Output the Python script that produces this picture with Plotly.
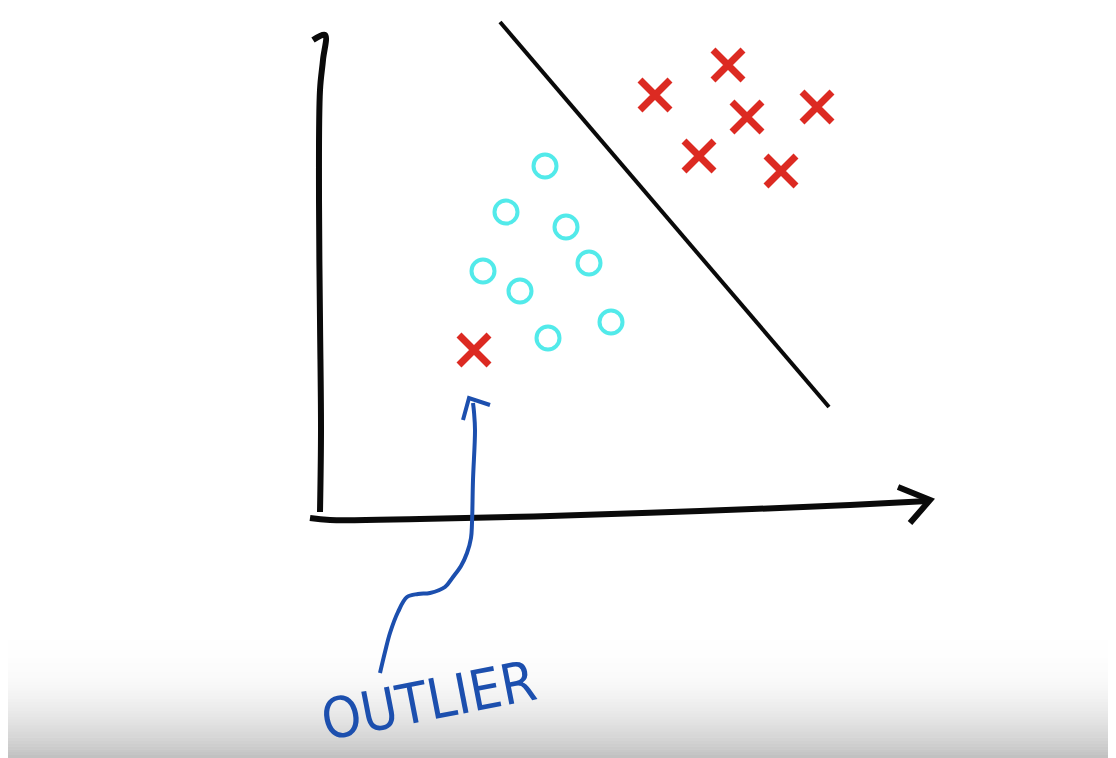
import plotly.graph_objects as go

# Sketch coordinates (canvas units, y grows downward)
red_x = [655, 728, 747, 817, 699, 781]
red_y = [95, 65, 117, 107, 156, 171]

outlier_x = [474]
outlier_y = [350]

cyan_x = [545, 506, 566, 589, 483, 520, 548, 611]
cyan_y = [166, 212, 227, 263, 271, 291, 338, 322]

yaxis_x = [313, 325, 323, 320, 319, 320, 321, 320]
yaxis_y = [40, 35, 60, 90, 200, 320, 430, 512]

xaxis_x = [310, 330, 420, 550, 700, 850, 928]
xaxis_y = [518, 520, 519, 516, 511, 505, 501]

arrowhead_x = [898, 930, 910]
arrowhead_y = [487, 500, 523]

boundary_x = [500, 829]
boundary_y = [22, 407]

pointer_x = [380, 385, 390, 398, 407, 418, 430, 445, 453, 461, 467, 471, 472, 473, 475, 474, 473]
pointer_y = [673, 652, 633, 612, 597, 594, 593, 587, 577, 566, 553, 538, 523, 480, 430, 412, 403]

pointer_head_x = [463, 469, 490]
pointer_head_y = [420, 398, 405]

label_text = "OUTLIER"
label_pos = (428, 700)

# page body margin of the browser (figure is drawn offset by this)
PAGE_MARGIN = 8
W, H = 1116, 758

fig = go.Figure()

# bottom gradient (video-style fade)
grad_top, grad_bottom = 640, 758
steps = 40
for i in range(steps):
    y0 = grad_top + (grad_bottom - grad_top) * i / steps
    y1 = grad_top + (grad_bottom - grad_top) * (i + 1) / steps
    t = (i + 0.5) / steps
    g = int(255 - 63 * t ** 2.2)
    fig.add_shape(type="rect", xref="x", yref="y", x0=0, x1=W, y0=y0, y1=y1 + 0.5,
                  line=dict(width=0), fillcolor=f"rgb({g},{g},{g})", layer="below")

fig.add_trace(go.Scatter(x=yaxis_x, y=yaxis_y, mode="lines", line=dict(color="#0a0a0a", width=6, shape="spline"), hoverinfo="skip"))
fig.add_trace(go.Scatter(x=xaxis_x, y=xaxis_y, mode="lines", line=dict(color="#0a0a0a", width=6, shape="spline"), hoverinfo="skip"))
fig.add_trace(go.Scatter(x=arrowhead_x, y=arrowhead_y, mode="lines", line=dict(color="#0a0a0a", width=6), hoverinfo="skip"))
fig.add_trace(go.Scatter(x=boundary_x, y=boundary_y, mode="lines", line=dict(color="#0a0a0a", width=4), hoverinfo="skip"))

fig.add_trace(go.Scatter(x=pointer_x, y=pointer_y, mode="lines", line=dict(color="#1c4fae", width=4, shape="spline"), hoverinfo="skip"))
fig.add_trace(go.Scatter(x=pointer_head_x, y=pointer_head_y, mode="lines", line=dict(color="#1c4fae", width=4), hoverinfo="skip"))

fig.add_trace(go.Scatter(x=cyan_x, y=cyan_y, mode="markers",
                         marker=dict(symbol="circle-open", size=23, color="#52eaea", line=dict(width=4, color="#52eaea"))))
fig.add_trace(go.Scatter(x=red_x + outlier_x, y=red_y + outlier_y, mode="markers",
                         marker=dict(symbol="x-thin-open", size=30, color="#dc2a22", line=dict(width=7, color="#dc2a22"))))

fig.add_annotation(x=label_pos[0], y=label_pos[1], xref="x", yref="y", text=label_text, showarrow=False,
                   textangle=-11,
                   font=dict(family="DejaVu Sans Condensed, Liberation Sans Narrow, Roboto Condensed, sans-serif",
                             size=56, color="#1c4fae"))

fig.update_layout(
    width=W - PAGE_MARGIN, height=H - PAGE_MARGIN, margin=dict(l=0, r=0, t=0, b=0),
    paper_bgcolor="white", plot_bgcolor="white", showlegend=False,
    xaxis=dict(range=[PAGE_MARGIN, W], visible=False, fixedrange=True),
    yaxis=dict(range=[H, PAGE_MARGIN], visible=False, fixedrange=True),
)

fig.write_html("out.html")
